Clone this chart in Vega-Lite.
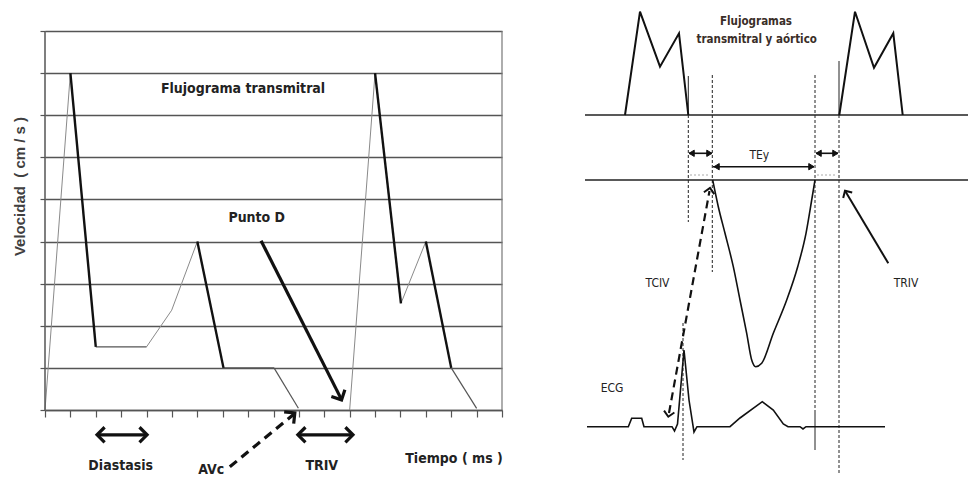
{
  "$schema": "https://vega.github.io/schema/vega-lite/v6.json",
  "background": "white",
  "padding": {"left": 12, "top": 0, "right": 0, "bottom": 0},
  "spacing": 83,
  "bounds": "flush",
  "config": {"view": {"stroke": null}},
  "datasets": {
    "curva": [
      {"x": 0, "y": 0, "x2": 1, "y2": 8, "estilo": "ascenso"},
      {"x": 1, "y": 8, "x2": 2, "y2": 1.5, "estilo": "descenso"},
      {"x": 2, "y": 1.5, "x2": 4, "y2": 1.5, "estilo": "suave"},
      {"x": 4, "y": 1.5, "x2": 4.99, "y2": 2.37, "estilo": "ascenso"},
      {"x": 4.99, "y": 2.37, "x2": 5.38, "y2": 3.0, "estilo": "ascenso"},
      {"x": 5.38, "y": 3.0, "x2": 6, "y2": 4, "estilo": "ascenso"},
      {"x": 6, "y": 4, "x2": 7.03, "y2": 1, "estilo": "descenso"},
      {"x": 7.03, "y": 1, "x2": 9.02, "y2": 1, "estilo": "suave"},
      {"x": 9.02, "y": 1, "x2": 9.98, "y2": 0.04, "estilo": "suave"},
      {"x": 12, "y": 0, "x2": 13, "y2": 8, "estilo": "ascenso"},
      {"x": 13, "y": 8, "x2": 14.02, "y2": 2.53, "estilo": "descenso"},
      {"x": 14.02, "y": 2.53, "x2": 15, "y2": 4, "estilo": "ascenso"},
      {"x": 15, "y": 4, "x2": 16, "y2": 1, "estilo": "descenso"},
      {"x": 16, "y": 1, "x2": 17, "y2": 0.04, "estilo": "suave"}
    ],
    "trazosI": [
      {"x": 0, "y": 0, "x2": 0, "y2": 9, "estilo": "eje"},
      {"x": 18, "y": 0, "x2": 18, "y2": 9, "estilo": "marco"},
      {"x": 8.51, "y": 4.02, "x2": 11.66, "y2": 0.27, "estilo": "flecha"},
      {"x": 2.05, "y": -0.59, "x2": 4.02, "y2": -0.59, "estilo": "flecha"},
      {"x": 9.96, "y": -0.59, "x2": 12.13, "y2": -0.59, "estilo": "flecha"},
      {"x": 7.28, "y": -1.35, "x2": 9.8, "y2": -0.1, "estilo": "discontinua"}
    ],
    "puntasI": [
      {"x": 11.68, "y": 0.24, "ang": 63},
      {"x": 2.05, "y": -0.59, "ang": 180},
      {"x": 4.02, "y": -0.59, "ang": 0},
      {"x": 9.96, "y": -0.59, "ang": 180},
      {"x": 12.13, "y": -0.59, "ang": 0},
      {"x": 9.84, "y": -0.07, "ang": -39}
    ],
    "textosI": [
      {"x": 7.8, "y": 7.62, "texto": "Flujograma transmitral"},
      {"x": 8.34, "y": 4.55, "texto": "Punto D"},
      {"x": 2.98, "y": -1.34, "texto": "Diastasis"},
      {"x": 10.9, "y": -1.33, "texto": "TRIV"},
      {"x": 16.11, "y": -1.16, "texto": "Tiempo ( ms )"},
      {"x": 6.55, "y": -1.42, "texto": "AVc"}
    ],
    "trazosD": [
      {"x": 0, "y": 363, "x2": 383, "y2": 363, "estilo": "linea"},
      {"x": 0, "y": 298, "x2": 383, "y2": 298, "estilo": "linea"},
      {"x": 103.3, "y": 402, "x2": 103.3, "y2": 363, "estilo": "fina"},
      {"x": 254, "y": 417, "x2": 254, "y2": 363, "estilo": "fina"},
      {"x": 103.3, "y": 363, "x2": 103.3, "y2": 256, "estilo": "guia"},
      {"x": 127.3, "y": 403, "x2": 127.3, "y2": 206, "estilo": "guia"},
      {"x": 230, "y": 403, "x2": 230, "y2": 65, "estilo": "guia"},
      {"x": 230, "y": 65, "x2": 230, "y2": 28, "estilo": "fina"},
      {"x": 254, "y": 363, "x2": 254, "y2": 5, "estilo": "guia"},
      {"x": 98, "y": 155, "x2": 98, "y2": 18, "estilo": "guia"},
      {"x": 105, "y": 303, "x2": 125, "y2": 303, "estilo": "punteada"},
      {"x": 232, "y": 303, "x2": 252, "y2": 303, "estilo": "punteada"},
      {"x": 104, "y": 324.7, "x2": 127, "y2": 324.7, "estilo": "cota"},
      {"x": 128, "y": 311.3, "x2": 229, "y2": 311.3, "estilo": "cota"},
      {"x": 231, "y": 324.7, "x2": 253, "y2": 324.7, "estilo": "cota"},
      {"x": 303.3, "y": 214.7, "x2": 260.5, "y2": 286.5, "estilo": "flecha"},
      {"x": 84, "y": 65, "x2": 124.5, "y2": 287, "estilo": "discontinua"}
    ],
    "puntasD": [
      {"x": 104, "y": 324.7, "ang": 180, "tipo": "rellena"},
      {"x": 127, "y": 324.7, "ang": 0, "tipo": "rellena"},
      {"x": 129, "y": 311.3, "ang": 180, "tipo": "rellena"},
      {"x": 229, "y": 311.3, "ang": 0, "tipo": "rellena"},
      {"x": 231, "y": 324.7, "ang": 180, "tipo": "rellena"},
      {"x": 253, "y": 324.7, "ang": 0, "tipo": "rellena"},
      {"x": 260, "y": 287.3, "ang": -121, "tipo": "abierta"},
      {"x": 125, "y": 290, "ang": -80, "tipo": "abierta"},
      {"x": 83.3, "y": 61.3, "ang": 100, "tipo": "abierta"}
    ],
    "lineasD": [
      {"x": 40, "y": 363, "serie": "mitral 1"},
      {"x": 55, "y": 466.3, "serie": "mitral 1"},
      {"x": 75, "y": 411.3, "serie": "mitral 1"},
      {"x": 94, "y": 444.7, "serie": "mitral 1"},
      {"x": 103.3, "y": 363, "serie": "mitral 1"},
      {"x": 254.3, "y": 363, "serie": "mitral 2"},
      {"x": 270, "y": 466.3, "serie": "mitral 2"},
      {"x": 289, "y": 410.3, "serie": "mitral 2"},
      {"x": 308.3, "y": 444.7, "serie": "mitral 2"},
      {"x": 317.7, "y": 363, "serie": "mitral 2"}
    ],
    "ecg": [
      {"x": 2, "y": 51.3},
      {"x": 43.3, "y": 51.3},
      {"x": 46.7, "y": 59.7},
      {"x": 56.7, "y": 59.7},
      {"x": 59, "y": 51.3},
      {"x": 87, "y": 51.3},
      {"x": 89.5, "y": 47},
      {"x": 92.5, "y": 54},
      {"x": 99, "y": 128},
      {"x": 104, "y": 78},
      {"x": 109, "y": 46},
      {"x": 112, "y": 51.3},
      {"x": 145, "y": 51.3},
      {"x": 155, "y": 60},
      {"x": 177.3, "y": 76.3},
      {"x": 188.3, "y": 68},
      {"x": 198.3, "y": 54},
      {"x": 203, "y": 51.3},
      {"x": 215, "y": 51.3},
      {"x": 218, "y": 49},
      {"x": 221, "y": 51.3},
      {"x": 300, "y": 51.3}
    ],
    "aorta": [
      {"x": 127.7, "y": 298},
      {"x": 133.3, "y": 271.3},
      {"x": 140, "y": 244.7},
      {"x": 148.3, "y": 211.3},
      {"x": 155, "y": 178},
      {"x": 161.7, "y": 144.7},
      {"x": 166.7, "y": 118},
      {"x": 170.7, "y": 111.3},
      {"x": 176.7, "y": 114.7},
      {"x": 188.3, "y": 144.7},
      {"x": 201.7, "y": 178},
      {"x": 212.7, "y": 211.3},
      {"x": 221, "y": 244.7},
      {"x": 226.7, "y": 278},
      {"x": 230, "y": 298}
    ],
    "textosD": [
      {"x": 171, "y": 456.3, "texto": "Flujogramas", "grupo": "titulo"},
      {"x": 171.7, "y": 438, "texto": "transmitral y aórtico", "grupo": "titulo"},
      {"x": 174.3, "y": 323, "texto": "TEy", "grupo": "etiqueta"},
      {"x": 72.5, "y": 195, "texto": "TCIV", "grupo": "etiqueta"},
      {"x": 321, "y": 195, "texto": "TRIV", "grupo": "etiqueta"},
      {"x": 27, "y": 90, "texto": "ECG", "grupo": "etiqueta"}
    ]
  },
  "hconcat": [
    {
      "width": 457,
      "height": 478,
      "encoding": {
        "x": {"field": "x", "type": "quantitative", "scale": {"domain": [0, 18], "nice": false, "zero": false},
          "axis": {"values": [0,1,2,3,4,5,6,7,8,9,10,11,12,13,14,15,16,17,18], "labels": false, "title": null, "grid": false, "ticks": true, "tickSize": 7, "tickColor": "#555", "tickWidth": 1.2, "domain": true, "domainColor": "#555", "domainWidth": 1.5, "offset": -68}},
        "y": {"field": "y", "type": "quantitative", "scale": {"domain": [-1.615, 9.736], "nice": false, "zero": false},
          "axis": {"values": [0,1,2,3,4,5,6,7,8,9], "labels": false, "grid": true, "gridColor": "#555555", "gridWidth": 1.4, "ticks": true, "tickSize": 5, "tickColor": "#555", "tickWidth": 1.2, "domain": false,
            "title": "Velocidad\u00a0\u00a0(\u00a0cm\u00a0/\u00a0s\u00a0)", "titleX": -26, "titleY": 186, "titleAngle": -90, "titleAlign": "center", "titleBaseline": "middle", "titleFont": "Liberation Sans", "titleFontSize": 15, "titleFontWeight": "bold", "titleColor": "#404040", "titlePadding": 0}}
      },
      "layer": [
        {"data": {"name": "curva"}, "transform": [{"filter": "datum.estilo === 'ascenso'"}],
          "mark": {"type": "rule", "color": "#8a8a8a", "strokeWidth": 1}, "encoding": {"x2": {"field": "x2"}, "y2": {"field": "y2"}}},
        {"data": {"name": "curva"}, "transform": [{"filter": "datum.estilo === 'suave'"}],
          "mark": {"type": "rule", "color": "#555555", "strokeWidth": 1.2}, "encoding": {"x2": {"field": "x2"}, "y2": {"field": "y2"}}},
        {"data": {"name": "curva"}, "transform": [{"filter": "datum.estilo === 'descenso'"}],
          "mark": {"type": "rule", "color": "#111111", "strokeWidth": 2.4}, "encoding": {"x2": {"field": "x2"}, "y2": {"field": "y2"}}},
        {"data": {"name": "trazosI"}, "transform": [{"filter": "datum.estilo === 'eje'"}],
          "mark": {"type": "rule", "color": "#555555", "strokeWidth": 1.5}, "encoding": {"x2": {"field": "x2"}, "y2": {"field": "y2"}}},
        {"data": {"name": "trazosI"}, "transform": [{"filter": "datum.estilo === 'marco'"}],
          "mark": {"type": "rule", "color": "#777777", "strokeWidth": 1.2}, "encoding": {"x2": {"field": "x2"}, "y2": {"field": "y2"}}},
        {"data": {"name": "trazosI"}, "transform": [{"filter": "datum.estilo === 'flecha'"}],
          "mark": {"type": "rule", "color": "#111111", "strokeWidth": 3.2}, "encoding": {"x2": {"field": "x2"}, "y2": {"field": "y2"}}},
        {"data": {"name": "trazosI"}, "transform": [{"filter": "datum.estilo === 'discontinua'"}],
          "mark": {"type": "rule", "color": "#111111", "strokeWidth": 3.2, "strokeDash": [9, 6]}, "encoding": {"x2": {"field": "x2"}, "y2": {"field": "y2"}}},
        {
          "data": {"name": "puntasI"},
          "mark": {"type": "point", "shape": "M-1,-1L0,0L-1,1", "filled": false, "stroke": "#111111", "strokeWidth": 3.2, "size": 230, "opacity": 1, "strokeJoin": "miter"},
          "encoding": {"angle": {"field": "ang", "type": "quantitative", "scale": null}}
        },
        {
          "data": {"name": "textosI"},
          "mark": {"type": "text", "font": "DejaVu Sans Condensed", "fontWeight": "bold", "fontSize": 14, "color": "#222222", "align": "center", "baseline": "middle"},
          "encoding": {"text": {"field": "texto"}}
        }
      ]
    },
    {
      "width": 389,
      "height": 478,
      "encoding": {
        "x": {"field": "x", "type": "quantitative", "scale": {"domain": [0, 389], "nice": false, "zero": false}, "axis": null},
        "y": {"field": "y", "type": "quantitative", "scale": {"domain": [0, 478], "nice": false, "zero": false}, "axis": null}
      },
      "layer": [
        {"data": {"name": "trazosD"}, "transform": [{"filter": "datum.estilo === 'linea'"}],
          "mark": {"type": "rule", "color": "#222222", "strokeWidth": 1.6}, "encoding": {"x2": {"field": "x2"}, "y2": {"field": "y2"}}},
        {"data": {"name": "trazosD"}, "transform": [{"filter": "datum.estilo === 'fina'"}],
          "mark": {"type": "rule", "color": "#222222", "strokeWidth": 1}, "encoding": {"x2": {"field": "x2"}, "y2": {"field": "y2"}}},
        {"data": {"name": "trazosD"}, "transform": [{"filter": "datum.estilo === 'guia'"}],
          "mark": {"type": "rule", "color": "#222222", "strokeWidth": 1, "strokeDash": [3, 2]}, "encoding": {"x2": {"field": "x2"}, "y2": {"field": "y2"}}},
        {"data": {"name": "trazosD"}, "transform": [{"filter": "datum.estilo === 'punteada'"}],
          "mark": {"type": "rule", "color": "#aaaaaa", "strokeWidth": 1, "strokeDash": [2, 2]}, "encoding": {"x2": {"field": "x2"}, "y2": {"field": "y2"}}},
        {"data": {"name": "trazosD"}, "transform": [{"filter": "datum.estilo === 'cota'"}],
          "mark": {"type": "rule", "color": "#111111", "strokeWidth": 1.6}, "encoding": {"x2": {"field": "x2"}, "y2": {"field": "y2"}}},
        {"data": {"name": "trazosD"}, "transform": [{"filter": "datum.estilo === 'flecha'"}],
          "mark": {"type": "rule", "color": "#111111", "strokeWidth": 2}, "encoding": {"x2": {"field": "x2"}, "y2": {"field": "y2"}}},
        {"data": {"name": "trazosD"}, "transform": [{"filter": "datum.estilo === 'discontinua'"}],
          "mark": {"type": "rule", "color": "#111111", "strokeWidth": 2.2, "strokeDash": [8, 5]}, "encoding": {"x2": {"field": "x2"}, "y2": {"field": "y2"}}},
        {
          "data": {"name": "lineasD"},
          "mark": {"type": "line", "color": "#111111", "strokeWidth": 2},
          "encoding": {"detail": {"field": "serie", "type": "nominal"}}
        },
        {
          "data": {"name": "ecg"},
          "mark": {"type": "line", "color": "#111111", "strokeWidth": 1.6},
          "encoding": {}
        },
        {
          "data": {"name": "aorta"},
          "mark": {"type": "line", "color": "#111111", "strokeWidth": 1.6, "interpolate": "monotone"},
          "encoding": {}
        },
        {
          "data": {"name": "puntasD"}, "transform": [{"filter": "datum.tipo === 'rellena'"}],
          "mark": {"type": "point", "shape": "M0,0L-1,-0.6L-1,0.6Z", "filled": true, "color": "#111111", "stroke": "#111111", "strokeWidth": 1, "size": 110, "opacity": 1},
          "encoding": {"angle": {"field": "ang", "type": "quantitative", "scale": null}}
        },
        {
          "data": {"name": "puntasD"}, "transform": [{"filter": "datum.tipo === 'abierta'"}],
          "mark": {"type": "point", "shape": "M-1,-1L0,0L-1,1", "filled": false, "stroke": "#111111", "strokeWidth": 2, "size": 110, "opacity": 1},
          "encoding": {"angle": {"field": "ang", "type": "quantitative", "scale": null}}
        },
        {
          "data": {"name": "textosD"}, "transform": [{"filter": "datum.grupo === 'titulo'"}],
          "mark": {"type": "text", "font": "DejaVu Sans Condensed", "fontSize": 11.5, "fontWeight": "bold", "color": "#3a2e28", "align": "center", "baseline": "middle"},
          "encoding": {"text": {"field": "texto"}}
        },
        {
          "data": {"name": "textosD"}, "transform": [{"filter": "datum.grupo === 'etiqueta'"}],
          "mark": {"type": "text", "font": "DejaVu Sans Condensed", "fontSize": 12, "color": "#222222", "align": "center", "baseline": "middle"},
          "encoding": {"text": {"field": "texto"}}
        }
      ]
    }
  ]
}
